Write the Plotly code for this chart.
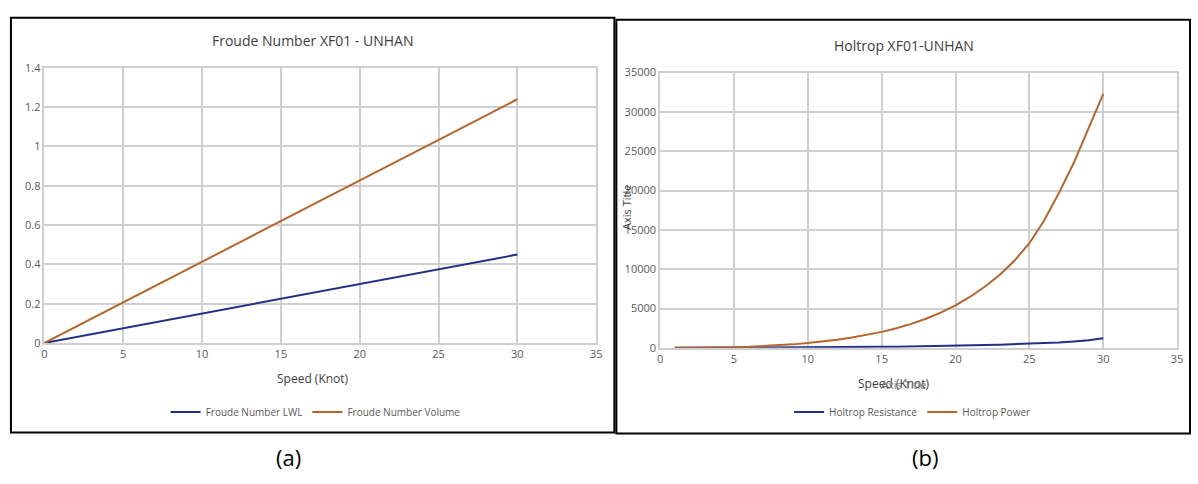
import plotly.graph_objects as go

# Speed (knots)
speed_fn = list(range(0, 31))
speed_ht = list(range(1, 31))

# Froude numbers
froude_lwl = [0, 0.015, 0.03, 0.045, 0.06, 0.075, 0.09, 0.105, 0.12, 0.135, 0.15,
              0.165, 0.18, 0.195, 0.21, 0.225, 0.24, 0.255, 0.27, 0.285, 0.30,
              0.315, 0.33, 0.345, 0.36, 0.375, 0.39, 0.405, 0.42, 0.435, 0.45]
froude_vol = [0, 0.041, 0.083, 0.124, 0.165, 0.207, 0.248, 0.289, 0.331, 0.372, 0.413,
              0.455, 0.496, 0.537, 0.579, 0.62, 0.661, 0.703, 0.744, 0.785, 0.827,
              0.868, 0.909, 0.951, 0.992, 1.033, 1.075, 1.116, 1.157, 1.199, 1.24]

# Holtrop resistance and power
holtrop_res = [1, 3, 7, 12, 19, 25, 33, 42, 52, 62, 72, 84, 96, 108, 122,
               140, 162, 190, 225, 262, 300, 345, 395, 450, 510, 590, 690,
               820, 960, 1230]
holtrop_pow = [2, 8, 20, 45, 85, 140, 215, 310, 440, 600, 800, 1030, 1310, 1640, 2030,
               2500, 3050, 3700, 4480, 5400, 6500, 7800, 9300, 11100, 13300, 16200,
               19700, 23500, 27800, 32300]

BLUE = "#232f86"
ORANGE = "#b8652a"
GRID = "#cfcfcf"
TICK = "#595959"
FONT = "Open Sans"
W, H = 1198, 484

fig = go.Figure()
fig.add_trace(go.Scatter(x=speed_fn, y=froude_lwl, mode="lines", name="Froude Number LWL",
                         line=dict(color=BLUE, width=2), xaxis="x", yaxis="y", legend="legend"))
fig.add_trace(go.Scatter(x=speed_fn, y=froude_vol, mode="lines", name="Froude Number Volume",
                         line=dict(color=ORANGE, width=2), xaxis="x", yaxis="y", legend="legend"))
fig.add_trace(go.Scatter(x=speed_ht, y=holtrop_res, mode="lines", name="Holtrop Resistance",
                         line=dict(color=BLUE, width=2), xaxis="x2", yaxis="y2", legend="legend2"))
fig.add_trace(go.Scatter(x=speed_ht, y=holtrop_pow, mode="lines", name="Holtrop Power",
                         line=dict(color=ORANGE, width=2), xaxis="x2", yaxis="y2", legend="legend2"))


def px(x):
    return x / W


def py(y):
    return 1 - y / H


axis_common = dict(showgrid=True, gridcolor=GRID, gridwidth=1.5, zeroline=False,
                   showline=True, linecolor=GRID, linewidth=1.5, mirror=True,
                   ticks="", tickfont=dict(family=FONT, size=11, color=TICK),
                   fixedrange=True)

fig.update_layout(
    width=W, height=H,
    margin=dict(l=0, r=0, t=0, b=0),
    paper_bgcolor="white", plot_bgcolor="white",
    font=dict(family=FONT, color=TICK),
    xaxis=dict(domain=[px(41.7), px(597.7)], range=[0, 35], dtick=5, anchor="y", **axis_common),
    yaxis=dict(domain=[py(345.7), py(61.7)], range=[0, 1.4], dtick=0.2, anchor="x",
               tickformat="~g", **axis_common),
    xaxis2=dict(domain=[px(662), px(1183)], range=[0, 35], dtick=5, anchor="y2", **axis_common),
    yaxis2=dict(domain=[py(350.7), py(66.7)], range=[0, 35000], dtick=5000, anchor="x2",
                tickformat="d", **axis_common),
    legend=dict(orientation="h", x=px(315), y=py(417), xanchor="center", yanchor="middle",
                font=dict(family=FONT, size=10, color=TICK), itemwidth=30,
                bgcolor="rgba(0,0,0,0)"),
    legend2=dict(orientation="h", x=px(916), y=py(417), xanchor="center", yanchor="middle",
                 font=dict(family=FONT, size=10, color=TICK), itemwidth=30,
                 bgcolor="rgba(0,0,0,0)"),
    showlegend=True,
)

# Panel frames
fig.add_shape(type="rect", xref="paper", yref="paper",
              x0=px(8), x1=px(616), y0=py(438), y1=py(10),
              line=dict(color="black", width=2), fillcolor="rgba(0,0,0,0)")
fig.add_shape(type="rect", xref="paper", yref="paper",
              x0=px(618), x1=px(1196), y0=py(439), y1=py(12),
              line=dict(color="black", width=2), fillcolor="rgba(0,0,0,0)")

annotations = [
    dict(text="Froude Number XF01 - UNHAN", x=px(312), y=py(34), size=14, color="#404040"),
    dict(text="Holtrop XF01-UNHAN", x=px(908), y=py(39), size=14, color="#404040"),
    dict(text="Speed (Knot)", x=px(312), y=py(382), size=12, color="#404040"),
    dict(text="Speed (Knot)", x=px(898), y=py(388), size=12, color="#404040"),
    dict(text="Axis Title", x=px(907), y=py(389), size=11, color="#7a7a7a"),
    dict(text="(a)", x=px(288), y=py(463), size=22, color="black"),
    dict(text="(b)", x=px(929), y=py(463), size=22, color="black"),
]
for a in annotations:
    fig.add_annotation(text=a["text"], x=a["x"], y=a["y"], xref="paper", yref="paper",
                       showarrow=False, xanchor="center", yanchor="middle",
                       font=dict(family=FONT, size=a["size"], color=a["color"]))

# Vertical axis caption sitting over the tick labels
fig.add_annotation(text="Axis Title", x=px(628), y=py(206), xref="paper", yref="paper",
                   showarrow=False, textangle=-90, xanchor="center", yanchor="middle",
                   font=dict(family=FONT, size=11, color="#404040"))

fig.write_html("out.html")
